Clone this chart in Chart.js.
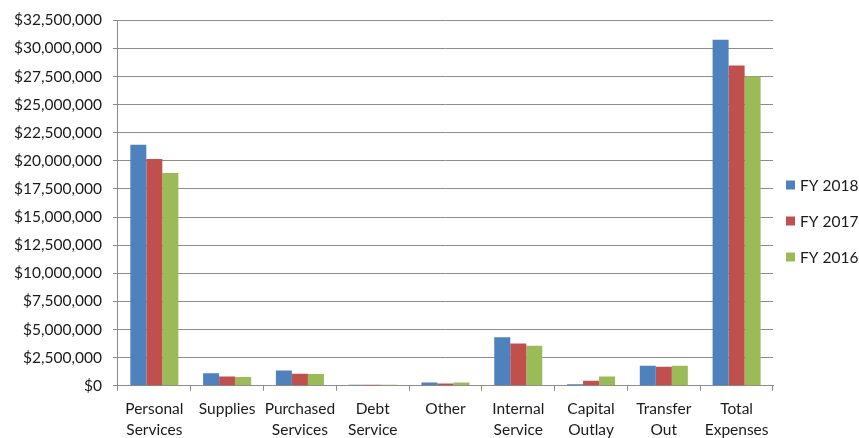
<!DOCTYPE html>
<html>
<head>
<meta charset="utf-8">
<script src="https://cdn.jsdelivr.net/npm/chart.js@4/dist/chart.umd.min.js"></script>
<style>
  html, body { margin: 0; padding: 0; background: #fff; }
  #wrap { width: 859px; height: 438px; }
</style>
</head>
<body>
<div id="wrap"><canvas id="expense-chart" width="859" height="438"></canvas></div>
<script>
// Expense categories (two-line labels under the x axis)
const categories = [
    ['Personal', 'Services'],
    ['Supplies'],
    ['Purchased', 'Services'],
    ['Debt', 'Service'],
    ['Other'],
    ['Internal', 'Service'],
    ['Capital', 'Outlay'],
    ['Transfer', 'Out'],
    ['Total', 'Expenses']
];

// Spending per fiscal year, in dollars
const fy2018 = [21440000, 1120000, 1360000, 80000, 290000, 4320000, 140000, 1780000, 30780000];
const fy2017 = [20160000, 830000, 1060000, 100000, 200000, 3760000, 440000, 1690000, 28470000];
const fy2016 = [18920000, 770000, 1040000, 80000, 290000, 3560000, 830000, 1780000, 27500000];

const seriesNames = ['FY 2018', 'FY 2017', 'FY 2016'];
const seriesColors = ['#4F81BD', '#C0504D', '#9BBB59'];

const yMax = 32500000;
const yStep = 2500000;

const axisColor = '#8c8c8c';
const textColor = '#1a1a1a';
const fontFamily = 'Lato, "Open Sans", sans-serif';
const fontSize = 15.5;

function formatDollars(value) {
    return '$' + Math.round(value).toLocaleString('en-US');
}

// Legend drawn by hand in the right margin: small squares, centred on the canvas height
const sideLegend = {
    id: 'sideLegend',
    afterDraw(chart) {
        const ctx = chart.ctx;
        const area = chart.chartArea;
        const sets = chart.data.datasets;
        const rowGap = 36;
        const box = 9;
        const x = area.right + 13;
        const midY = chart.height / 2 + 2;
        const firstY = midY - rowGap * (sets.length - 1) / 2;

        ctx.save();
        ctx.font = fontSize + 'px ' + fontFamily;
        ctx.textBaseline = 'middle';
        ctx.textAlign = 'left';
        sets.forEach((ds, i) => {
            const y = firstY + i * rowGap;
            ctx.fillStyle = ds.backgroundColor;
            ctx.fillRect(x, y - box / 2, box, box);
            ctx.fillStyle = textColor;
            ctx.fillText(ds.label, x + box + 5, y + 1);
        });
        ctx.restore();
    }
};

function initChart() {
    const ctx = document.getElementById('expense-chart');
    const values = [fy2018, fy2017, fy2016];

    new Chart(ctx, {
        type: 'bar',
        data: {
            labels: categories,
            datasets: values.map((data, i) => ({
                label: seriesNames[i],
                data: data,
                backgroundColor: seriesColors[i],
                borderWidth: 0,
                categoryPercentage: 0.66,
                barPercentage: 1.0
            }))
        },
        plugins: [sideLegend],
        options: {
            responsive: false,
            animation: false,
            layout: {
                padding: { top: 12, left: 3, right: 86, bottom: -10 }
            },
            plugins: {
                legend: { display: false },
                tooltip: { enabled: false }
            },
            scales: {
                x: {
                    grid: {
                        display: true,
                        offset: true,
                        drawOnChartArea: false,
                        drawTicks: true,
                        tickLength: 5,
                        color: axisColor
                    },
                    border: { display: true, color: axisColor, width: 1 },
                    ticks: {
                        color: textColor,
                        font: { family: fontFamily, size: fontSize, lineHeight: 1.33 },
                        maxRotation: 0,
                        autoSkip: false,
                        padding: 8
                    }
                },
                y: {
                    min: 0,
                    max: yMax,
                    grid: {
                        display: true,
                        color: axisColor,
                        lineWidth: 1,
                        drawTicks: true,
                        tickLength: 5
                    },
                    border: { display: true, color: axisColor, width: 1 },
                    ticks: {
                        stepSize: yStep,
                        color: textColor,
                        font: { family: fontFamily, size: fontSize },
                        padding: 11,
                        callback: function(value) {
                            return formatDollars(value);
                        }
                    }
                }
            }
        }
    });
}

initChart();
</script>
</body>
</html>
